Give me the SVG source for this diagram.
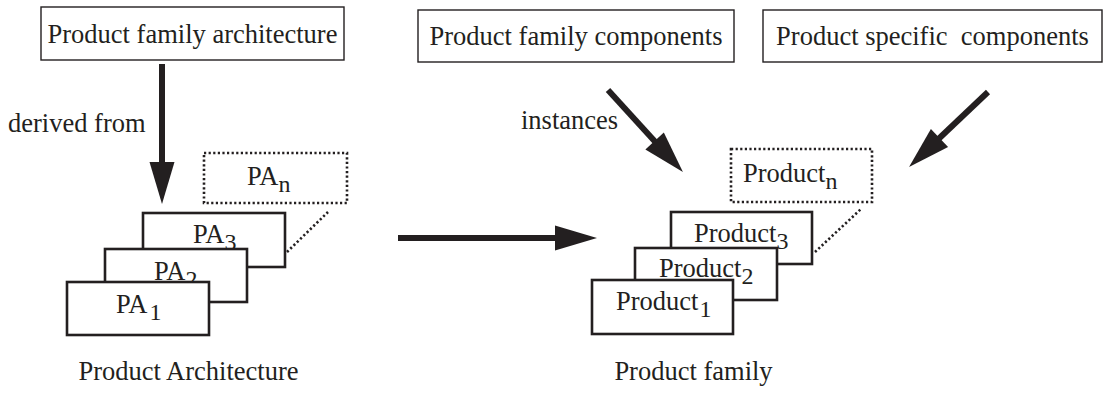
<svg xmlns="http://www.w3.org/2000/svg" width="1107" height="394" viewBox="0 0 1107 394">
  <style>
    text { font-family: "Liberation Serif", "Times New Roman", serif; font-size: 26.5px; fill: #231f20; }
    .sub { font-size: 24px; }
    .box { fill: #ffffff; stroke: #231f20; stroke-width: 1.4; }
    .card { fill: #ffffff; stroke: #231f20; stroke-width: 2.6; }
    .dotted { fill: #ffffff; stroke: #231f20; stroke-width: 2.6; stroke-dasharray: 2.2 2.4; }
    .dotline { fill: none; stroke: #231f20; stroke-width: 2.6; stroke-dasharray: 2.2 2.4; }
    .shaft { fill: none; stroke: #231f20; stroke-width: 6; marker-end: url(#head); }
  </style>
  <defs>
    <marker id="head" markerUnits="userSpaceOnUse" markerWidth="44" markerHeight="26" refX="12" refY="12.5" orient="auto" overflow="visible">
      <path d="M0,0 L42,12.5 L0,25 z" fill="#231f20"/>
    </marker>
  </defs>
  <rect width="1107" height="394" fill="#ffffff"/>

  <!-- top source boxes -->
  <g id="family-architecture">
    <rect class="box" x="41" y="7" width="303" height="53"/>
    <text x="192.5" y="43" text-anchor="middle">Product family architecture</text>
  </g>
  <g id="family-components">
    <rect class="box" x="418" y="10" width="316" height="52"/>
    <text x="576" y="45" text-anchor="middle">Product family components</text>
  </g>
  <g id="specific-components">
    <rect class="box" x="763" y="10" width="339" height="52"/>
    <text x="932.5" y="45" text-anchor="middle" style="white-space:pre">Product specific  components</text>
  </g>

  <!-- product architecture stack -->
  <g id="pa-n">
    <rect class="dotted" x="204" y="153" width="143" height="50"/>
    <text x="247" y="185">PA<tspan class="sub" dy="7">n</tspan></text>
  </g>
  <g id="pa-3">
    <rect class="card" x="143" y="213" width="142" height="54"/>
    <text x="193" y="243">PA<tspan class="sub" dy="7">3</tspan></text>
  </g>
  <g id="pa-2">
    <rect class="card" x="105" y="249" width="142" height="53"/>
    <text x="154" y="280">PA<tspan class="sub" dy="7">2</tspan></text>
  </g>
  <g id="pa-1">
    <rect class="card" x="67" y="282" width="142" height="53"/>
    <text x="116" y="313">PA<tspan class="sub" dy="7" dx="2">1</tspan></text>
  </g>

  <!-- product family stack -->
  <g id="product-n">
    <rect class="dotted" x="731" y="149" width="141" height="53"/>
    <text x="743" y="182">Product<tspan class="sub" dy="7">n</tspan></text>
  </g>
  <g id="product-3">
    <rect class="card" x="671" y="212" width="141" height="52"/>
    <text x="694" y="242">Product<tspan class="sub" dy="7">3</tspan></text>
  </g>
  <g id="product-2">
    <rect class="card" x="635" y="248" width="142" height="52"/>
    <text x="659" y="277">Product<tspan class="sub" dy="7">2</tspan></text>
  </g>
  <g id="product-1">
    <rect class="card" x="592" y="280" width="141" height="54"/>
    <text x="616" y="310">Product<tspan class="sub" dy="7" dx="1">1</tspan></text>
  </g>

  <!-- captions -->
  <text x="188.5" y="380" text-anchor="middle">Product Architecture</text>
  <text x="693.5" y="380" text-anchor="middle">Product family</text>

  <!-- connectors -->
  <g id="connectors">
    <line class="dotline" x1="287" y1="252" x2="328" y2="212"/>
    <line class="dotline" x1="815" y1="252" x2="861" y2="209"/>
    <line class="shaft" x1="162" y1="64" x2="162" y2="174"/>
    <line class="shaft" x1="398" y1="238" x2="567" y2="238"/>
    <line class="shaft" x1="608" y1="90" x2="662.7" y2="149.9"/>
    <line class="shaft" x1="988" y1="92" x2="930.8" y2="146.3"/>
    <text x="8" y="132">derived from</text>
    <text x="521" y="129">instances</text>
  </g>
</svg>
